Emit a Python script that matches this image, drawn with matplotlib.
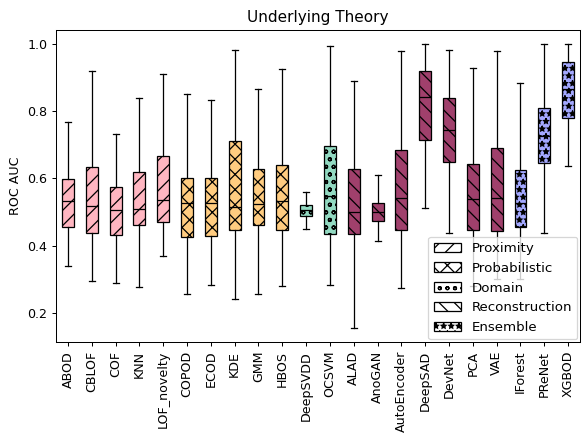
import matplotlib
matplotlib.use("Agg")
import matplotlib.pyplot as plt
from matplotlib.patches import Patch

models = ["ABOD", "CBLOF", "COF", "KNN", "LOF_novelty", "COPOD", "ECOD", "KDE", "GMM", "HBOS",
          "DeepSVDD", "OCSVM", "ALAD", "AnoGAN", "AutoEncoder", "DeepSAD", "DevNet", "PCA",
          "VAE", "IForest", "PReNet", "XGBOD"]
theory = ["Proximity"] * 5 + ["Probabilistic"] * 5 + ["Domain"] * 2 + \
         ["Reconstruction"] * 7 + ["Ensemble"] * 3

# ROC AUC summary per model (whisker low, Q1, median, Q3, whisker high)
whislo = [0.338, 0.294, 0.288, 0.277, 0.369, 0.257, 0.282, 0.240, 0.257, 0.279,
          0.450, 0.282, 0.155, 0.415, 0.275, 0.512, 0.437, 0.280, 0.300, 0.300, 0.437, 0.636]
q1 = [0.454, 0.438, 0.432, 0.460, 0.469, 0.426, 0.429, 0.446, 0.461, 0.446,
      0.489, 0.435, 0.435, 0.474, 0.446, 0.716, 0.650, 0.445, 0.443, 0.454, 0.646, 0.780]
med = [0.534, 0.518, 0.507, 0.510, 0.536, 0.527, 0.528, 0.516, 0.524, 0.534,
       0.506, 0.549, 0.499, 0.499, 0.543, 0.843, 0.744, 0.539, 0.541, 0.527, 0.725, 0.865]
q3 = [0.598, 0.634, 0.574, 0.619, 0.667, 0.602, 0.602, 0.713, 0.628, 0.641,
      0.521, 0.696, 0.628, 0.528, 0.684, 0.921, 0.840, 0.644, 0.690, 0.624, 0.810, 0.946]
whishi = [0.768, 0.921, 0.733, 0.840, 0.912, 0.852, 0.834, 0.984, 0.866, 0.927,
          0.559, 0.996, 0.891, 0.610, 0.981, 1.000, 0.984, 0.930, 0.981, 0.883, 1.000, 1.000]

groups = ["Proximity", "Probabilistic", "Domain", "Reconstruction", "Ensemble"]
colors = {"Proximity": "#ffb6c1", "Probabilistic": "#ffcc80", "Domain": "#92d9c1",
          "Reconstruction": "#a0406c", "Ensemble": "#a3a8ff"}
hatches = {"Proximity": "//", "Probabilistic": "xx", "Domain": "oo",
           "Reconstruction": "\\\\", "Ensemble": "**"}

stats = []
for i, m in enumerate(models):
    stats.append({"label": m, "whislo": whislo[i], "q1": q1[i], "med": med[i],
                  "q3": q3[i], "whishi": whishi[i], "fliers": []})

fig, ax = plt.subplots(figsize=(6.4, 4.811), dpi=91.25)
bp = ax.bxp(stats, widths=0.5, patch_artist=True, showfliers=False,
            medianprops={"color": "black"})
for box, t in zip(bp["boxes"], theory):
    box.set_facecolor(colors[t])
    box.set_hatch(hatches[t])
    box.set_edgecolor("black")

handles = [Patch(facecolor="white", edgecolor="black", hatch=hatches[g], label=g) for g in groups]
ax.legend(handles=handles, loc="lower right", borderaxespad=0.2, fontsize=10.6)
ax.set_xticks(range(1, len(models) + 1))
ax.set_xticklabels(models, rotation=90)
ax.set_ylabel("ROC AUC")
ax.set_title("Underlying Theory")
fig.subplots_adjust(left=56 / 584, right=580 / 584, top=1 - 30 / 439, bottom=1 - 342 / 439)
plt.savefig("out.png")
